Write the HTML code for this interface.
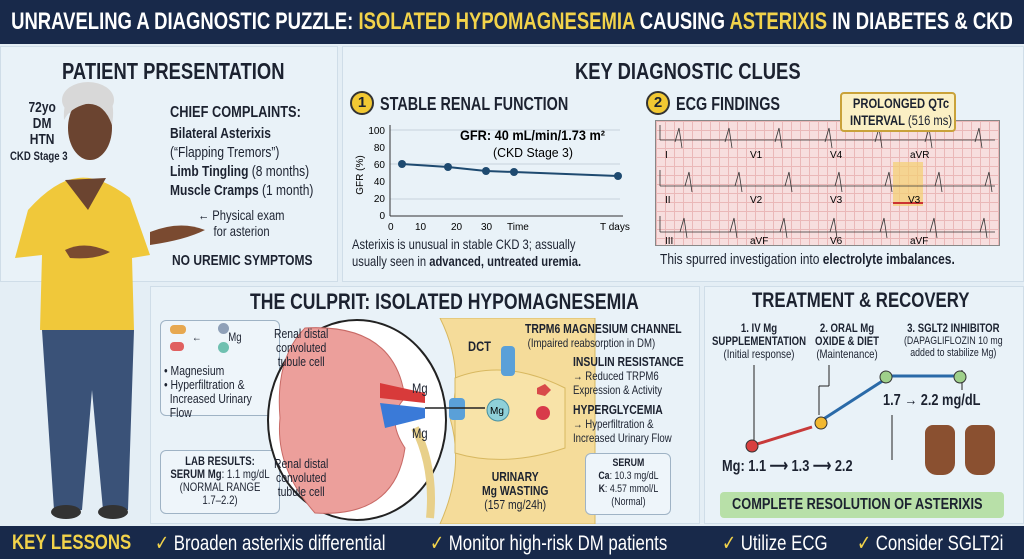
<!DOCTYPE html>
<html><head><meta charset="utf-8"><style>
*{margin:0;padding:0;box-sizing:border-box}
body{width:1024px;height:559px;overflow:hidden;background:#e4eef5;font-family:"Liberation Sans",sans-serif;color:#1c2230;position:relative}
.a{position:absolute;white-space:nowrap}
.t{transform:scaleX(.8);transform-origin:0 0}
.b{font-weight:bold}
.panel{position:absolute;background:#e9f2f8;border:1px solid #cfdde8}
.box{position:absolute;background:#eef5fa;border:1px solid #9fb3c5;border-radius:6px}
.k{color:#fff;font-size:21px;top:531px}
.k span{color:#f2d34a}
</style></head><body>
<div class="a" style="left:0;top:0;width:1024px;height:44px;background:#18294a"></div>
<div class="a b" style="left:-140px;top:8px;width:1304px;text-align:center;font-size:24px;color:#fff;transform:scaleX(.77);transform-origin:50% 0">UNRAVELING A DIAGNOSTIC PUZZLE: <span style="color:#f2d34a">ISOLATED HYPOMAGNESEMIA</span> CAUSING <span style="color:#f2d34a">ASTERIXIS</span> IN DIABETES &amp; CKD</div>

<div class="panel" style="left:0;top:46px;width:338px;height:236px"></div>
<div class="panel" style="left:342px;top:46px;width:682px;height:236px"></div>
<div class="panel" style="left:150px;top:286px;width:550px;height:238px"></div>
<div class="panel" style="left:704px;top:286px;width:320px;height:238px"></div>

<!-- figure -->
<svg class="a" style="left:0;top:80px" width="215" height="445">
<ellipse cx="88" cy="20" rx="26" ry="18" fill="#d8d8d8"/>
<ellipse cx="90" cy="48" rx="22" ry="32" fill="#6b4430"/>
<path d="M64 40 Q62 5 92 5 Q118 10 112 45 Q104 22 86 24 Q70 28 64 40Z" fill="#d8d8d8"/>
<path d="M28 130 Q55 100 78 98 Q100 95 130 118 L150 175 L132 178 L134 250 L40 250 L42 175 L15 178Z" fill="#f0c83a"/>
<path d="M65 100 L88 130 L106 98" fill="#6b4430"/>
<path d="M42 250 L134 250 L128 430 L103 430 L92 310 L82 430 L54 430Z" fill="#3a5278"/>
<ellipse cx="66" cy="432" rx="15" ry="7" fill="#333"/><ellipse cx="113" cy="432" rx="15" ry="7" fill="#333"/>
<path d="M65 170 Q85 160 110 172 Q95 180 70 178Z" fill="#7a4a30"/>
<path d="M150 152 Q180 140 205 150 Q185 160 150 165Z" fill="#7a4a30"/>
</svg>

<!-- patient -->
<div class="a b t" style="left:62px;top:58px;font-size:23px">PATIENT PRESENTATION</div>
<div class="a b t" style="left:10px;top:100px;font-size:15px;text-align:center;line-height:16px">&nbsp;&nbsp;72yo<br>&nbsp;&nbsp;DM<br>&nbsp;&nbsp;HTN<br><span style="font-size:12px">CKD Stage 3</span></div>
<div class="a b t" style="left:170px;top:104px;font-size:16px">CHIEF COMPLAINTS:</div>
<div class="a t" style="left:170px;top:124px;font-size:15px;line-height:19px"><b>Bilateral Asterixis</b><br>(“Flapping Tremors”)<br><b>Limb Tingling</b> (8 months)<br><b>Muscle Cramps</b> (1 month)</div>
<div class="a t" style="left:198px;top:207px;font-size:14px;line-height:16px">← Physical exam<br>&nbsp;&nbsp;&nbsp;&nbsp;&nbsp;for asterion</div>
<div class="a b t" style="left:172px;top:252px;font-size:15px">NO UREMIC SYMPTOMS</div>

<!-- key clues -->
<div class="a b t" style="left:575px;top:58px;font-size:23px">KEY DIAGNOSTIC CLUES</div>
<div class="a" style="left:350px;top:91px;width:24px;height:24px;border-radius:50%;background:#f2c832;border:2px solid #333;text-align:center;font-weight:bold;font-size:15px;line-height:20px">1</div>
<div class="a b t" style="left:380px;top:94px;font-size:18px">STABLE RENAL FUNCTION</div>
<div class="a" style="left:646px;top:91px;width:24px;height:24px;border-radius:50%;background:#f2c832;border:2px solid #333;text-align:center;font-weight:bold;font-size:15px;line-height:20px">2</div>
<div class="a b t" style="left:676px;top:94px;font-size:18px">ECG FINDINGS</div>
<svg class="a" style="left:345px;top:120px" width="290" height="115" font-family="Liberation Sans,sans-serif" font-size="10">
<g stroke="#c8d3dc"><line x1="45" y1="10" x2="275" y2="10"/><line x1="45" y1="44" x2="275" y2="44"/><line x1="45" y1="79" x2="275" y2="79"/></g>
<line x1="45" y1="5" x2="45" y2="96" stroke="#333"/><line x1="45" y1="96" x2="278" y2="96" stroke="#333"/>
<g text-anchor="end"><text x="40" y="14">100</text><text x="40" y="31">80</text><text x="40" y="48">60</text><text x="40" y="65">40</text><text x="40" y="82">20</text><text x="40" y="99">0</text></g>
<text x="18" y="55" transform="rotate(-90 18 55)" text-anchor="middle">GFR (%)</text>
<text x="43" y="110">0</text><text x="70" y="110">10</text><text x="106" y="110">20</text><text x="136" y="110">30</text><text x="162" y="110">Time</text><text x="255" y="110">T days</text>
<polyline points="57,44 103,47 141,51 169,52 273,56" fill="none" stroke="#1e4a70" stroke-width="2"/>
<g fill="#1e4a70"><circle cx="57" cy="44" r="4"/><circle cx="103" cy="47" r="4"/><circle cx="141" cy="51" r="4"/><circle cx="169" cy="52" r="4"/><circle cx="273" cy="56" r="4"/></g>
<text x="115" y="20" font-weight="bold" font-size="14" textLength="145" lengthAdjust="spacingAndGlyphs">GFR: 40 mL/min/1.73 m²</text>
<text x="148" y="37" font-size="13" textLength="80" lengthAdjust="spacingAndGlyphs">(CKD Stage 3)</text>
</svg>
<div class="a t" style="left:352px;top:236px;font-size:14px;line-height:17px">Asterixis is unusual in stable CKD 3; assually<br>usually seen in <b>advanced, untreated uremia.</b></div>
<!-- ECG -->
<div class="a" style="left:655px;top:120px;width:345px;height:126px;background-color:#f7dede;background-image:linear-gradient(#eab8b8 1px,transparent 1px),linear-gradient(90deg,#eab8b8 1px,transparent 1px);background-size:9px 9px;border:1px solid #888"></div>
<svg class="a" style="left:655px;top:120px" width="345" height="126" font-family="Liberation Sans,sans-serif" font-size="10">
<rect x="238" y="42" width="30" height="44" fill="#f3d070" opacity=".7"/><line x1="238" y1="83" x2="268" y2="83" stroke="#c33" stroke-width="2"/>
<g fill="none" stroke="#333" stroke-width="0.8">
<path d="M5 20 V5 M5 20 H340 M20 22 l4 -14 l3 20 M70 22 l4 -14 l3 20 M120 22 l4 -14 l3 20 M170 22 l4 -14 l3 20 M220 22 l4 -14 l3 20 M270 22 l4 -14 l3 20 M320 22 l4 -14 l3 20"/>
<path d="M5 66 V50 M5 66 H340 M30 66 l4 -14 l3 20 M80 66 l4 -14 l3 20 M130 66 l4 -14 l3 20 M180 66 l4 -14 l3 20 M230 66 l4 -14 l3 20 M280 66 l4 -14 l3 20 M330 66 l4 -14 l3 20"/>
<path d="M5 112 V96 M5 112 H340 M25 112 l4 -14 l3 20 M75 112 l4 -14 l3 20 M125 112 l4 -14 l3 20 M175 112 l4 -14 l3 20 M225 112 l4 -14 l3 20 M275 112 l4 -14 l3 20 M325 112 l4 -14 l3 20"/>
</g>
<text x="10" y="38">I</text><text x="95" y="38">V1</text><text x="175" y="38">V4</text><text x="255" y="38">aVR</text>
<text x="10" y="83">II</text><text x="95" y="83">V2</text><text x="175" y="83">V3</text><text x="253" y="83">V3</text>
<text x="10" y="124">III</text><text x="95" y="124">aVF</text><text x="175" y="124">V6</text><text x="255" y="124">aVF</text>
</svg>
<div class="a" style="left:840px;top:92px;width:116px;height:40px;background:#fbf0c4;border:2px solid #c9a23a;border-radius:4px"></div>
<div class="a b t" style="left:850px;top:95px;font-size:14px;text-align:center;line-height:17px">PROLONGED QTc<br>INTERVAL <span style="font-weight:normal">(516 ms)</span></div>
<div class="a t" style="left:660px;top:251px;font-size:15px">This spurred investigation into <b>electrolyte imbalances.</b></div>

<!-- culprit -->
<div class="a b t" style="left:250px;top:289px;font-size:22px">THE CULPRIT: ISOLATED HYPOMAGNESEMIA</div>
<div class="box" style="left:160px;top:320px;width:120px;height:96px"></div>
<div class="a" style="left:170px;top:325px;width:16px;height:9px;background:#e7a850;border-radius:4px"></div>
<div class="a" style="left:170px;top:342px;width:14px;height:9px;background:#e06060;border-radius:4px"></div>
<div class="a" style="left:218px;top:323px;width:11px;height:11px;border-radius:50%;background:#8fa0b8"></div>
<div class="a" style="left:218px;top:342px;width:11px;height:11px;border-radius:50%;background:#6fc0b0"></div>
<div class="a t" style="left:192px;top:330px;font-size:12px">←&nbsp;&nbsp;&nbsp;&nbsp;&nbsp;&nbsp;&nbsp;&nbsp;&nbsp;&nbsp;Mg</div>
<div class="a t" style="left:164px;top:364px;font-size:13px;line-height:14px">• Magnesium<br>• Hyperfiltration &amp;<br>&nbsp;&nbsp;Increased Urinary<br>&nbsp;&nbsp;Flow</div>
<div class="box" style="left:160px;top:450px;width:120px;height:64px"></div>
<div class="a t" style="left:164px;top:455px;width:140px;text-align:center;font-size:12px;line-height:13px"><b>LAB RESULTS:</b><br><b>SERUM Mg</b>: 1.1 mg/dL<br>(NORMAL RANGE<br>1.7–2.2)</div>
<!-- DCT region -->
<svg class="a" style="left:265px;top:318px" width="340" height="206">
<path d="M175 0 L330 0 L330 206 L175 206 Q200 150 185 100 Q200 50 175 0Z" fill="#f5dc9a" stroke="#d8b860"/>
<path d="M190 60 Q240 40 300 70 L300 130 Q240 150 190 135Z" fill="#f8e3a8" stroke="#d8b860"/>
<ellipse cx="92" cy="102" rx="89" ry="100" fill="#fff" stroke="#222" stroke-width="2"/>
<path d="M40 10 Q130 5 140 80 Q120 100 140 130 Q130 200 50 195 Q10 150 15 100 Q10 40 40 10Z" fill="#ec9f9b" stroke="#c86a66"/>
<path d="M115 65 L160 75 L160 85 L115 80Z" fill="#d83a3a"/><path d="M115 85 L160 90 L160 100 L120 110Z" fill="#3a7ad8"/>
<path d="M150 110 Q170 150 165 200" stroke="#e8d08a" stroke-width="8" fill="none"/>
<rect x="184" y="80" width="16" height="22" rx="4" fill="#5aa0d8"/>
<rect x="236" y="28" width="14" height="30" rx="4" fill="#5aa0d8"/>
<circle cx="233" cy="92" r="11" fill="#8fd0d8" stroke="#4a90a0"/>
<text x="225" y="96" font-size="10" font-family="Liberation Sans">Mg</text>
<path d="M272 70 l8 -4 l6 6 l-6 6 l-8 -2Z" fill="#d84a4a"/><circle cx="278" cy="95" r="7" fill="#d83a4a"/>
<line x1="160" y1="90" x2="220" y2="90" stroke="#222" stroke-width="1.5"/>
</svg>
<div class="a t" style="left:274px;top:327px;font-size:13px;text-align:center;line-height:14px">Renal distal<br>convoluted<br>tubule cell</div>
<div class="a t" style="left:274px;top:457px;font-size:13px;text-align:center;line-height:14px">Renal distal<br>convoluted<br>tubule cell</div>
<div class="a t" style="left:412px;top:380px;font-size:14px">Mg</div>
<div class="a t" style="left:412px;top:425px;font-size:14px">Mg</div>
<div class="a b t" style="left:468px;top:338px;font-size:14px">DCT</div>
<div class="a t" style="left:525px;top:322px;font-size:12px;line-height:14px"><b style="font-size:13px">TRPM6 MAGNESIUM CHANNEL</b><br>&nbsp;(Impaired reabsorption in DM)</div>
<div class="a t" style="left:573px;top:355px;font-size:12px;line-height:14px"><b style="font-size:13px">INSULIN RESISTANCE</b><br>→ Reduced TRPM6<br>Expression &amp; Activity</div>
<div class="a t" style="left:573px;top:403px;font-size:12px;line-height:14px"><b style="font-size:13px">HYPERGLYCEMIA</b><br>→ Hyperfiltration &amp;<br>Increased Urinary Flow</div>
<div class="a t" style="left:482px;top:470px;font-size:13px;text-align:center;line-height:14px"><b>URINARY<br>Mg WASTING</b><br>(157 mg/24h)</div>
<div class="box" style="left:585px;top:453px;width:86px;height:62px"></div>
<div class="a t" style="left:594px;top:457px;width:86px;text-align:center;font-size:11px;line-height:13px"><b>SERUM</b><br><b>Ca</b>: 10.3 mg/dL<br><b>K</b>: 4.57 mmol/L<br>(Normal)</div>

<!-- treatment -->
<div class="a b t" style="left:752px;top:289px;font-size:21px">TREATMENT &amp; RECOVERY</div>
<div class="a t" style="left:712px;top:322px;font-size:12px;text-align:center;line-height:13px"><b>1. IV Mg<br>SUPPLEMENTATION</b><br>(Initial response)</div>
<div class="a t" style="left:815px;top:322px;font-size:12px;text-align:center;line-height:13px"><b>2. ORAL Mg<br>OXIDE &amp; DIET</b><br>(Maintenance)</div>
<div class="a t" style="left:904px;top:322px;font-size:11px;text-align:center;line-height:12px"><b style="font-size:12px">3. SGLT2 INHIBITOR</b><br>(DAPAGLIFLOZIN 10 mg<br>added to stabilize Mg)</div>
<svg class="a" style="left:704px;top:360px" width="320" height="110">
<g stroke="#222" fill="none"><line x1="50" y1="5" x2="50" y2="82"/><line x1="125" y1="5" x2="125" y2="26" /><line x1="125" y1="26" x2="115" y2="26"/><line x1="115" y1="26" x2="115" y2="55"/><line x1="258" y1="10" x2="258" y2="30"/><line x1="188" y1="100" x2="188" y2="55"/></g>
<line x1="50" y1="85" x2="108" y2="67" stroke="#c83a3a" stroke-width="3"/>
<line x1="118" y1="60" x2="180" y2="20" stroke="#2a6aa8" stroke-width="3"/>
<line x1="188" y1="16" x2="250" y2="16" stroke="#2a6aa8" stroke-width="3"/>
<circle cx="48" cy="86" r="6" fill="#d84040" stroke="#333"/><circle cx="117" cy="63" r="6" fill="#f2b830" stroke="#333"/>
<circle cx="182" cy="17" r="6" fill="#9fd08a" stroke="#333"/><circle cx="256" cy="17" r="6" fill="#9fd08a" stroke="#333"/>
</svg>
<div class="a b t" style="left:883px;top:392px;font-size:16px">1.7 → 2.2 mg/dL</div>
<div class="a b t" style="left:722px;top:456px;font-size:16px">Mg: 1.1 ⟶ 1.3 ⟶ 2.2</div>
<div class="a" style="left:925px;top:425px;width:30px;height:50px;background:#8a5030;border-radius:8px 8px 12px 12px"></div>
<div class="a" style="left:965px;top:425px;width:30px;height:50px;background:#8a5030;border-radius:8px 8px 12px 12px"></div>
<div class="a" style="left:720px;top:492px;width:284px;height:26px;background:#b8e0a8;border-radius:4px"></div>
<div class="a b t" style="left:732px;top:496px;font-size:16px">COMPLETE RESOLUTION OF ASTERIXIS</div>

<!-- bottom -->
<div class="a" style="left:0;top:526px;width:1024px;height:33px;background:#18294a"></div>
<div class="a t k b" style="left:12px"><span>KEY LESSONS</span></div>
<div class="a t k" style="left:155px"><span>✓</span> Broaden asterixis differential</div>
<div class="a t k" style="left:430px"><span>✓</span> Monitor high-risk DM patients</div>
<div class="a t k" style="left:722px"><span>✓</span> Utilize ECG</div>
<div class="a t k" style="left:857px"><span>✓</span> Consider SGLT2i</div>
</body></html>
